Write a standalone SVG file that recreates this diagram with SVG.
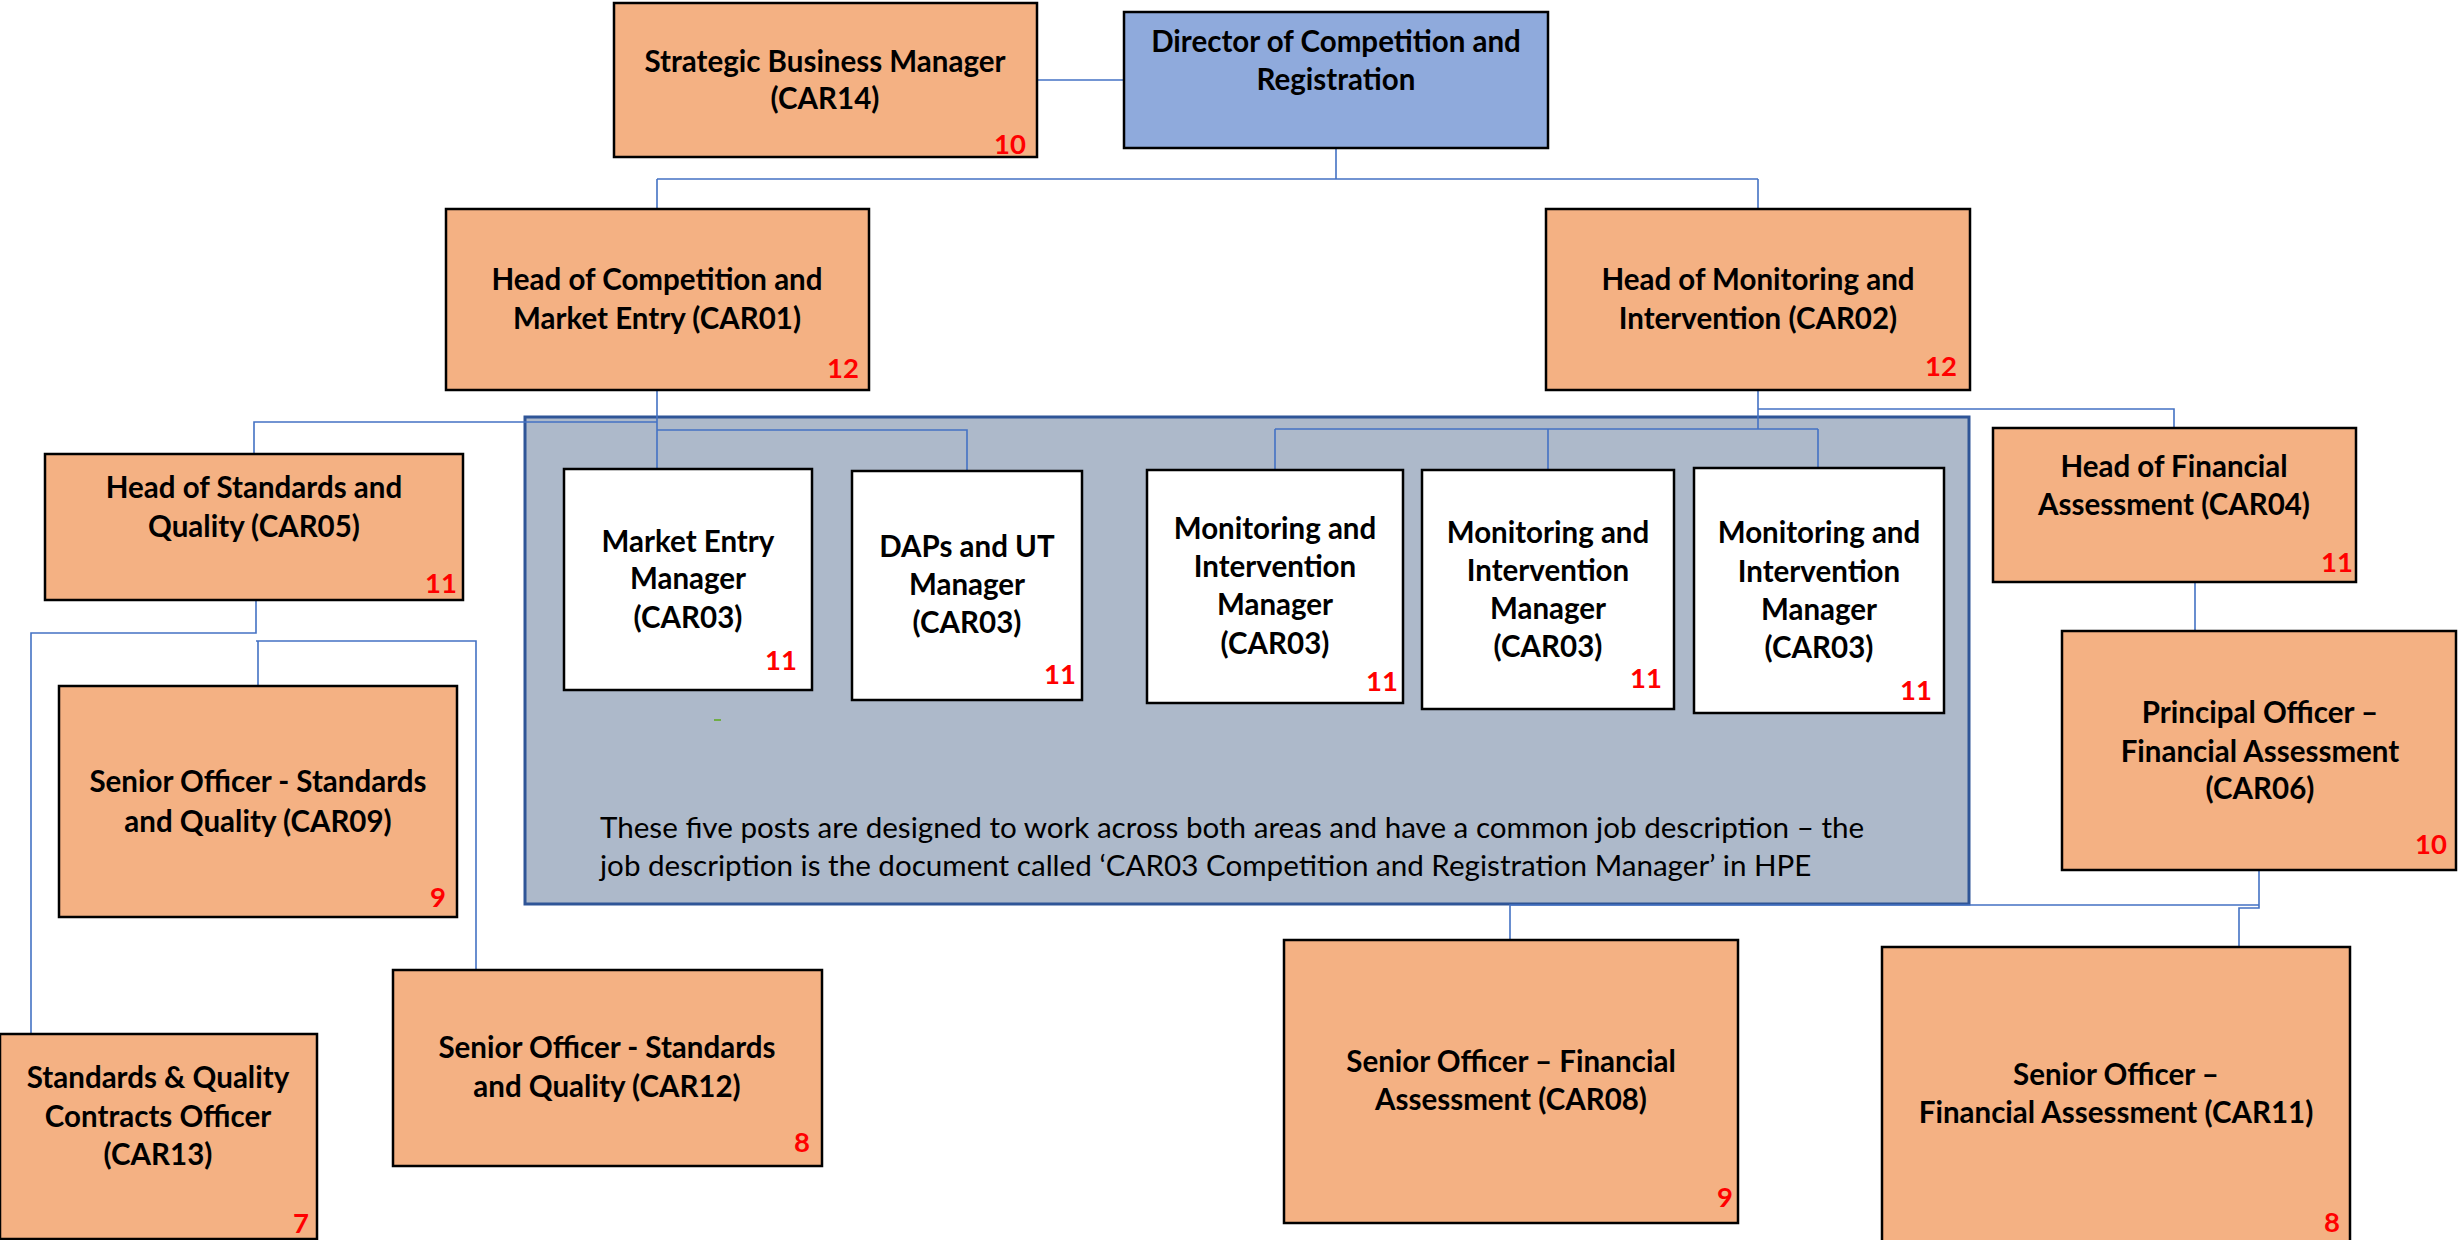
<svg xmlns="http://www.w3.org/2000/svg" width="2458" height="1240" viewBox="0 0 2458 1240">
<style>
.bg{fill:#ffffff}
.box{fill:#F4B183;stroke:#000;stroke-width:2.5}
.dir{fill:#8FAADC;stroke:#000;stroke-width:2.5}
.wbox{fill:#ffffff;stroke:#000;stroke-width:2.5}
.panel{fill:#ADB9CA;stroke:#2F5597;stroke-width:3}
.t{font-family:Lato,"Liberation Sans",sans-serif;font-weight:bold;font-size:29.5px;fill:#000;text-anchor:middle}
.n{font-family:Lato,"Liberation Sans",sans-serif;font-weight:bold;font-size:27.5px;fill:#FF0000;text-anchor:end}
.p{font-family:Lato,"Liberation Sans",sans-serif;font-size:29.6px;fill:#000}
.c{fill:none;stroke:#4472C4;stroke-width:1.6}
</style>
<rect class="bg" x="0" y="0" width="2458" height="1240"/>
<g id="panel">
<rect class="panel" x="525" y="417" width="1444" height="487"/>
<text class="p" x="600" y="838">These five posts are designed to work across both areas and have a common job description – the</text>
<text class="p" x="600" y="876">job description is the document called ‘CAR03 Competition and Registration Manager’ in HPE</text>
<rect x="714" y="719" width="7" height="2" fill="#70AD47"/>
</g>
<g id="connectors">
<path class="c" d="M1037,80 H1124"/>
<path class="c" d="M1336,148 V179 M657,179 H1758 M657,179 V209 M1758,179 V209"/>
<path class="c" d="M657,390 V469 H652 M657,422 H254 V454 M657,430 H967 V471"/>
<path class="c" d="M1758,390 V429 M1758,409 H2174 V428 M1275,429 H1818 M1275,429 V470 M1548,429 V470 M1818,429 V468"/>
<path class="c" d="M2195,582 V631 H2165"/>
<path class="c" d="M256,600 V633 H31 V1034 M256,641 H476 V970 M256,641 H258 V686"/>
<path class="c" d="M2259,870 V905 H1510 V940 M2259,905 V908 H2239 V948"/>
</g>
<g id="car14">
<rect class="box" x="614" y="3" width="423" height="154"/>
<text class="t" x="825" y="72">Strategic Business Manager</text>
<text class="t" x="825" y="109">(CAR14)</text>
<text class="n" x="1026" y="154">10</text>
</g>
<g id="director">
<rect class="dir" x="1124" y="12" width="424" height="136"/>
<text class="t" x="1336" y="52">Director of Competition and</text>
<text class="t" x="1336" y="90">Registration</text>
</g>
<g id="car01">
<rect class="box" x="446" y="209" width="423" height="181"/>
<text class="t" x="657" y="290">Head of Competition and</text>
<text class="t" x="657" y="329">Market Entry (CAR01)</text>
<text class="n" x="859" y="378">12</text>
</g>
<g id="car02">
<rect class="box" x="1546" y="209" width="424" height="181"/>
<text class="t" x="1758" y="290">Head of Monitoring and</text>
<text class="t" x="1758" y="329">Intervention (CAR02)</text>
<text class="n" x="1957" y="376">12</text>
</g>
<g id="car05">
<rect class="box" x="45" y="454" width="418" height="146"/>
<text class="t" x="254" y="498">Head of Standards and</text>
<text class="t" x="254" y="537">Quality (CAR05)</text>
<text class="n" x="457" y="593">11</text>
</g>
<g id="market-entry">
<rect class="wbox" x="564" y="469" width="248" height="221"/>
<text class="t" x="688" y="552">Market Entry</text>
<text class="t" x="688" y="589">Manager</text>
<text class="t" x="688" y="628">(CAR03)</text>
<text class="n" x="797" y="670">11</text>
</g>
<g id="daps">
<rect class="wbox" x="852" y="471" width="230" height="229"/>
<text class="t" x="967" y="557">DAPs and UT</text>
<text class="t" x="967" y="595">Manager</text>
<text class="t" x="967" y="633">(CAR03)</text>
<text class="n" x="1076" y="684">11</text>
</g>
<g id="mi1">
<rect class="wbox" x="1147" y="470" width="256" height="233"/>
<text class="t" x="1275" y="539">Monitoring and</text>
<text class="t" x="1275" y="577">Intervention</text>
<text class="t" x="1275" y="615">Manager</text>
<text class="t" x="1275" y="654">(CAR03)</text>
<text class="n" x="1398" y="691">11</text>
</g>
<g id="mi2">
<rect class="wbox" x="1422" y="470" width="252" height="239"/>
<text class="t" x="1548" y="543">Monitoring and</text>
<text class="t" x="1548" y="581">Intervention</text>
<text class="t" x="1548" y="619">Manager</text>
<text class="t" x="1548" y="657">(CAR03)</text>
<text class="n" x="1662" y="688">11</text>
</g>
<g id="mi3">
<rect class="wbox" x="1694" y="468" width="250" height="245"/>
<text class="t" x="1819" y="543">Monitoring and</text>
<text class="t" x="1819" y="582">Intervention</text>
<text class="t" x="1819" y="620">Manager</text>
<text class="t" x="1819" y="658">(CAR03)</text>
<text class="n" x="1932" y="700">11</text>
</g>
<g id="car04">
<rect class="box" x="1993" y="428" width="363" height="154"/>
<text class="t" x="2174" y="477">Head of Financial</text>
<text class="t" x="2174" y="515">Assessment (CAR04)</text>
<text class="n" x="2353" y="572">11</text>
</g>
<g id="car06">
<rect class="box" x="2062" y="631" width="394" height="239"/>
<text class="t" x="2260" y="723">Principal Officer –</text>
<text class="t" x="2260" y="762">Financial Assessment</text>
<text class="t" x="2260" y="799">(CAR06)</text>
<text class="n" x="2447" y="854">10</text>
</g>
<g id="car09">
<rect class="box" x="59" y="686" width="398" height="231"/>
<text class="t" x="258" y="792">Senior Officer - Standards</text>
<text class="t" x="258" y="832">and Quality (CAR09)</text>
<text class="n" x="446" y="907">9</text>
</g>
<g id="car12">
<rect class="box" x="393" y="970" width="429" height="196"/>
<text class="t" x="607" y="1058">Senior Officer - Standards</text>
<text class="t" x="607" y="1097">and Quality (CAR12)</text>
<text class="n" x="810" y="1152">8</text>
</g>
<g id="car13">
<rect class="box" x="0" y="1034" width="317" height="205"/>
<text class="t" x="158" y="1088">Standards &amp; Quality</text>
<text class="t" x="158" y="1127">Contracts Officer</text>
<text class="t" x="158" y="1165">(CAR13)</text>
<text class="n" x="309" y="1233">7</text>
</g>
<g id="car08">
<rect class="box" x="1284" y="940" width="454" height="283"/>
<text class="t" x="1511" y="1072">Senior Officer – Financial</text>
<text class="t" x="1511" y="1110">Assessment (CAR08)</text>
<text class="n" x="1733" y="1207">9</text>
</g>
<g id="car11">
<rect class="box" x="1882" y="947" width="468" height="300"/>
<text class="t" x="2116" y="1085">Senior Officer –</text>
<text class="t" x="2116" y="1123">Financial Assessment (CAR11)</text>
<text class="n" x="2340" y="1232">8</text>
</g>
</svg>
